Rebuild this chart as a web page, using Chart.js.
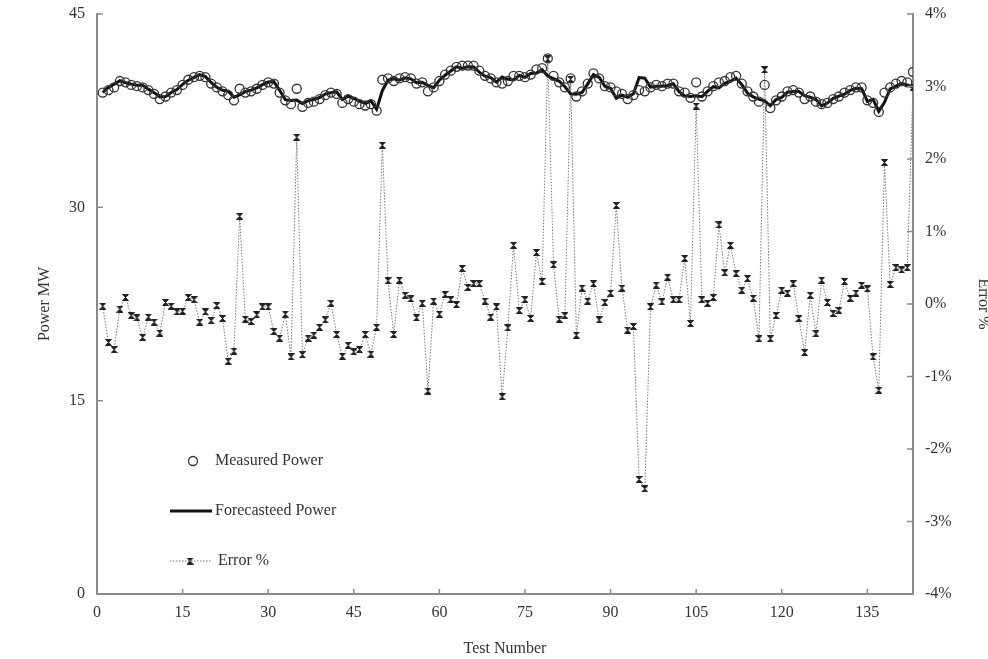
<!DOCTYPE html>
<html>
<head>
<meta charset="utf-8">
<script src="https://cdn.jsdelivr.net/npm/chart.js@4"></script>
<style>
  html, body { margin: 0; background: #fff; }
</style>
</head>
<body>
<canvas id="chart" width="988" height="659"></canvas>
<script>
// values, one entry per test (1..143)
const measuredPower = [
  38.9, 39.1, 39.3, 39.8, 39.7, 39.5, 39.4, 39.3, 39.1, 38.8,
  38.4, 38.6, 38.9, 39.1, 39.5, 39.9, 40.1, 40.2, 40.1, 39.6,
  39.3, 39.0, 38.7, 38.3, 39.2, 38.9, 39.0, 39.2, 39.5, 39.7,
  39.6, 38.9, 38.3, 38.0, 39.2, 37.8, 38.1, 38.2, 38.4, 38.7,
  38.9, 38.8, 38.1, 38.4, 38.2, 38.0, 37.9, 38.0, 37.5, 39.9,
  40.0, 39.8, 40.0, 40.1, 40.0, 39.6, 39.7, 39.0, 39.3, 39.8,
  40.3, 40.6, 40.9, 41.0, 41.0, 41.0, 40.6, 40.2, 40.0, 39.7,
  39.6, 39.8, 40.2, 40.2, 40.1, 40.3, 40.7, 40.8, 41.55, 40.2,
  39.7, 39.3, 40.0, 38.6, 39.0, 39.6, 40.4, 40.0, 39.4, 39.3,
  39.0, 38.8, 38.4, 38.7, 39.1, 39.0, 39.3, 39.5, 39.4, 39.6,
  39.6, 39.0, 38.9, 38.5, 39.7, 38.6, 39.0, 39.4, 39.7, 39.8,
  40.1, 40.2, 39.6, 39.0, 38.6, 38.2, 39.5, 37.7, 38.3, 38.6,
  39.0, 39.1, 38.9, 38.4, 38.6, 38.2, 38.0, 38.1, 38.4, 38.6,
  38.9, 39.1, 39.3, 39.3, 38.3, 38.1, 37.4, 38.9, 39.3, 39.6,
  39.8, 39.7, 40.5
];

const forecastPower = [
  38.91, 39.31, 39.55, 39.83, 39.66, 39.56, 39.47, 39.48, 39.17, 38.90,
  38.56, 38.59, 38.91, 39.14, 39.54, 39.86, 40.08, 40.30, 40.14, 39.69,
  39.31, 39.08, 39.01, 38.55, 38.73, 38.98, 39.09, 39.26, 39.52, 39.72,
  39.75, 39.08, 38.35, 38.28, 38.32, 38.06, 38.28, 38.36, 38.52, 38.79,
  38.90, 38.96, 38.37, 38.62, 38.45, 38.24, 38.06, 38.26, 37.62, 39.05,
  39.87, 39.97, 39.87, 40.05, 39.97, 39.67, 39.70, 39.47, 39.28, 39.86,
  40.25, 40.58, 40.90, 40.80, 40.91, 40.89, 40.49, 40.18, 40.07, 39.72,
  40.11, 39.93, 39.88, 40.24, 40.08, 40.38, 40.42, 40.68, 40.19, 39.99,
  39.78, 39.36, 38.80, 38.77, 38.91, 39.58, 40.29, 40.09, 39.39, 39.24,
  38.47, 38.71, 38.54, 38.82, 40.07, 40.02, 39.32, 39.40, 39.39, 39.45,
  39.58, 38.98, 38.65, 38.60, 38.65, 38.58, 39.00, 39.36, 39.27, 39.63,
  39.78, 40.03, 39.52, 38.86, 38.57, 38.38, 38.26, 37.88, 38.36, 38.53,
  38.94, 38.99, 38.98, 38.66, 38.55, 38.36, 37.87, 38.09, 38.45, 38.63,
  38.78, 39.07, 39.24, 39.20, 38.22, 38.38, 37.45, 38.14, 39.19, 39.40,
  39.61, 39.50, 39.32
];

const errorPct = [
  -0.03, -0.53, -0.63, -0.07, 0.09, -0.16, -0.19, -0.46, -0.18, -0.25,
  -0.40, 0.02, -0.03, -0.11, -0.10, 0.09, 0.06, -0.25, -0.11, -0.23,
  -0.02, -0.20, -0.79, -0.65, 1.21, -0.21, -0.24, -0.15, -0.04, -0.04,
  -0.38, -0.47, -0.14, -0.73, 2.30, -0.70, -0.47, -0.43, -0.32, -0.22,
  0.01, -0.42, -0.72, -0.57, -0.66, -0.63, -0.42, -0.69, -0.32, 2.19,
  0.32, -0.42, 0.33, 0.12, 0.07, -0.19, 0.01, -1.20, 0.04, -0.14,
  0.13, 0.06, -0.01, 0.49, 0.23, 0.28, 0.28, 0.04, -0.18, -0.04,
  -1.28, -0.33, 0.81, -0.09, 0.06, -0.20, 0.71, 0.31, 3.38, 0.54,
  -0.21, -0.16, 3.10, -0.43, 0.22, 0.04, 0.28, -0.22, 0.02, 0.15,
  1.36, 0.22, -0.36, -0.31, -2.42, -2.55, -0.04, 0.26, 0.03, 0.37,
  0.06, 0.06, 0.63, -0.27, 2.73, 0.06, 0.01, 0.09, 1.09, 0.43,
  0.81, 0.42, 0.19, 0.35, 0.08, -0.48, 3.23, -0.48, -0.16, 0.19,
  0.15, 0.28, -0.20, -0.67, 0.12, -0.41, 0.33, 0.02, -0.13, -0.09,
  0.31, 0.08, 0.15, 0.26, 0.21, -0.73, -1.19, 1.95, 0.27, 0.50,
  0.47, 0.50, 2.99
];

const testNumbers = measuredPower.map((_, i) => i + 1);
const xTickStep = 15;
const powerTickStep = 15;
const errorTickStep = 1;

const serif = "'Liberation Serif', 'Times New Roman', serif";
const textColor = '#333';
const axisColor = '#8a8a8a';

// little hourglass marker used for the error series
function hourglass(size) {
  const c = document.createElement('canvas');
  c.width = size; c.height = size;
  const g = c.getContext('2d');
  g.fillStyle = '#222';
  g.beginPath();
  g.moveTo(0.5, 0.5);
  g.lineTo(size - 0.5, 0.5);
  g.lineTo(0.5, size - 0.5);
  g.lineTo(size - 0.5, size - 0.5);
  g.closePath();
  g.fill();
  g.strokeStyle = '#222';
  g.lineWidth = 1;
  g.stroke();
  return c;
}
const errMarker = hourglass(7);

const toPoints = vals => vals.map((v, i) => ({ x: testNumbers[i], y: v }));

const inwardTicks = {
  id: 'inwardTicks',
  afterDraw(chart) {
    const { ctx, chartArea: a, scales } = chart;
    ctx.save();
    ctx.strokeStyle = axisColor;
    ctx.lineWidth = 1.5;
    ctx.beginPath();
    scales.x.ticks.forEach(t => {
      const px = scales.x.getPixelForValue(t.value);
      ctx.moveTo(px, a.bottom); ctx.lineTo(px, a.bottom - 5);
    });
    scales.y.ticks.forEach(t => {
      const py = scales.y.getPixelForValue(t.value);
      ctx.moveTo(a.left, py); ctx.lineTo(a.left + 6, py);
    });
    scales.y2.ticks.forEach(t => {
      const py = scales.y2.getPixelForValue(t.value);
      ctx.moveTo(a.right, py); ctx.lineTo(a.right - 6, py);
    });
    ctx.stroke();
    ctx.restore();
  }
};

// legend sits inside the plot, lower left, one item per row
const innerLegend = {
  id: 'innerLegend',
  afterDraw(chart) {
    const { ctx, chartArea: a } = chart;
    const x0 = a.left + 73, x1 = a.left + 115, tx = a.left + 118;
    const rows = [a.top + 447, a.top + 497, a.top + 547];
    ctx.save();
    ctx.font = '16px ' + serif;
    ctx.fillStyle = textColor;
    ctx.textBaseline = 'middle';

    ctx.strokeStyle = '#333';
    ctx.lineWidth = 1.3;
    ctx.beginPath();
    ctx.arc(a.left + 96, rows[0], 4.5, 0, Math.PI * 2);
    ctx.stroke();
    ctx.fillText('Measured Power', tx, rows[0]);

    ctx.strokeStyle = '#111';
    ctx.lineWidth = 3;
    ctx.beginPath();
    ctx.moveTo(x0, rows[1]); ctx.lineTo(x1, rows[1]);
    ctx.stroke();
    ctx.fillText('Forecasteed Power', tx, rows[1]);

    ctx.strokeStyle = '#777';
    ctx.lineWidth = 1;
    ctx.setLineDash([1.5, 1.5]);
    ctx.beginPath();
    ctx.moveTo(x0, rows[2]); ctx.lineTo(x1, rows[2]);
    ctx.stroke();
    ctx.setLineDash([]);
    ctx.drawImage(errMarker, a.left + 93 - 3.5, rows[2] - 3.5);
    ctx.fillText('Error %', tx + 3, rows[2]);
    ctx.restore();
  }
};

new Chart(document.getElementById('chart'), {
  type: 'line',
  data: {
    datasets: [
      {
        label: 'Measured Power',
        data: toPoints(measuredPower),
        yAxisID: 'y',
        showLine: false,
        pointStyle: 'circle',
        pointRadius: 4.5,
        pointBorderWidth: 1.3,
        pointBorderColor: '#333',
        pointBackgroundColor: 'rgba(0,0,0,0)',
        order: 1
      },
      {
        label: 'Forecasteed Power',
        data: toPoints(forecastPower),
        yAxisID: 'y',
        borderColor: '#111',
        borderWidth: 3,
        pointRadius: 0,
        tension: 0,
        order: 2
      },
      {
        label: 'Error %',
        data: toPoints(errorPct),
        yAxisID: 'y2',
        borderColor: '#7a7a7a',
        borderWidth: 1,
        borderDash: [1.5, 1.5],
        pointStyle: errMarker,
        pointRadius: 3.5,
        tension: 0,
        order: 3
      }
    ]
  },
  options: {
    responsive: false,
    animation: false,
    layout: { padding: { top: 14, left: 0, right: 0, bottom: 0 } },
    plugins: { legend: { display: false }, tooltip: { enabled: false } },
    scales: {
      x: {
        type: 'linear',
        min: 0,
        max: 143,
        grid: { display: false },
        border: { color: axisColor, width: 2 },
        ticks: { stepSize: xTickStep, color: textColor, padding: 1, font: { family: serif, size: 16 } },
        afterBuildTicks: s => { s.ticks = s.ticks.filter(t => t.value % xTickStep === 0); },
        afterFit: s => { s.height = 65; },
        title: { display: true, text: 'Test Number', color: textColor, font: { family: serif, size: 16 }, padding: { top: 0, bottom: 1 } }
      },
      y: {
        position: 'left',
        min: 0,
        max: 45,
        grid: { display: false },
        border: { color: axisColor, width: 2 },
        ticks: { stepSize: powerTickStep, color: textColor, padding: 4, font: { family: serif, size: 16 } },
        afterFit: s => { s.width = 97; },
        title: { display: true, text: 'Power MW', color: textColor, font: { family: serif, size: 16 }, padding: { top: 35, bottom: 0 } }
      },
      y2: {
        position: 'right',
        min: -4,
        max: 4,
        grid: { display: false },
        border: { color: axisColor, width: 2 },
        ticks: { stepSize: errorTickStep, color: textColor, padding: 4, font: { family: serif, size: 16 }, callback: v => v + '%' },
        afterFit: s => { s.width = 75; },
        title: { display: true, text: 'Error %', color: textColor, font: { family: serif, size: 16 }, padding: { top: -5, bottom: 0 } }
      }
    }
  },
  plugins: [inwardTicks, innerLegend]
});
</script>
</body>
</html>
